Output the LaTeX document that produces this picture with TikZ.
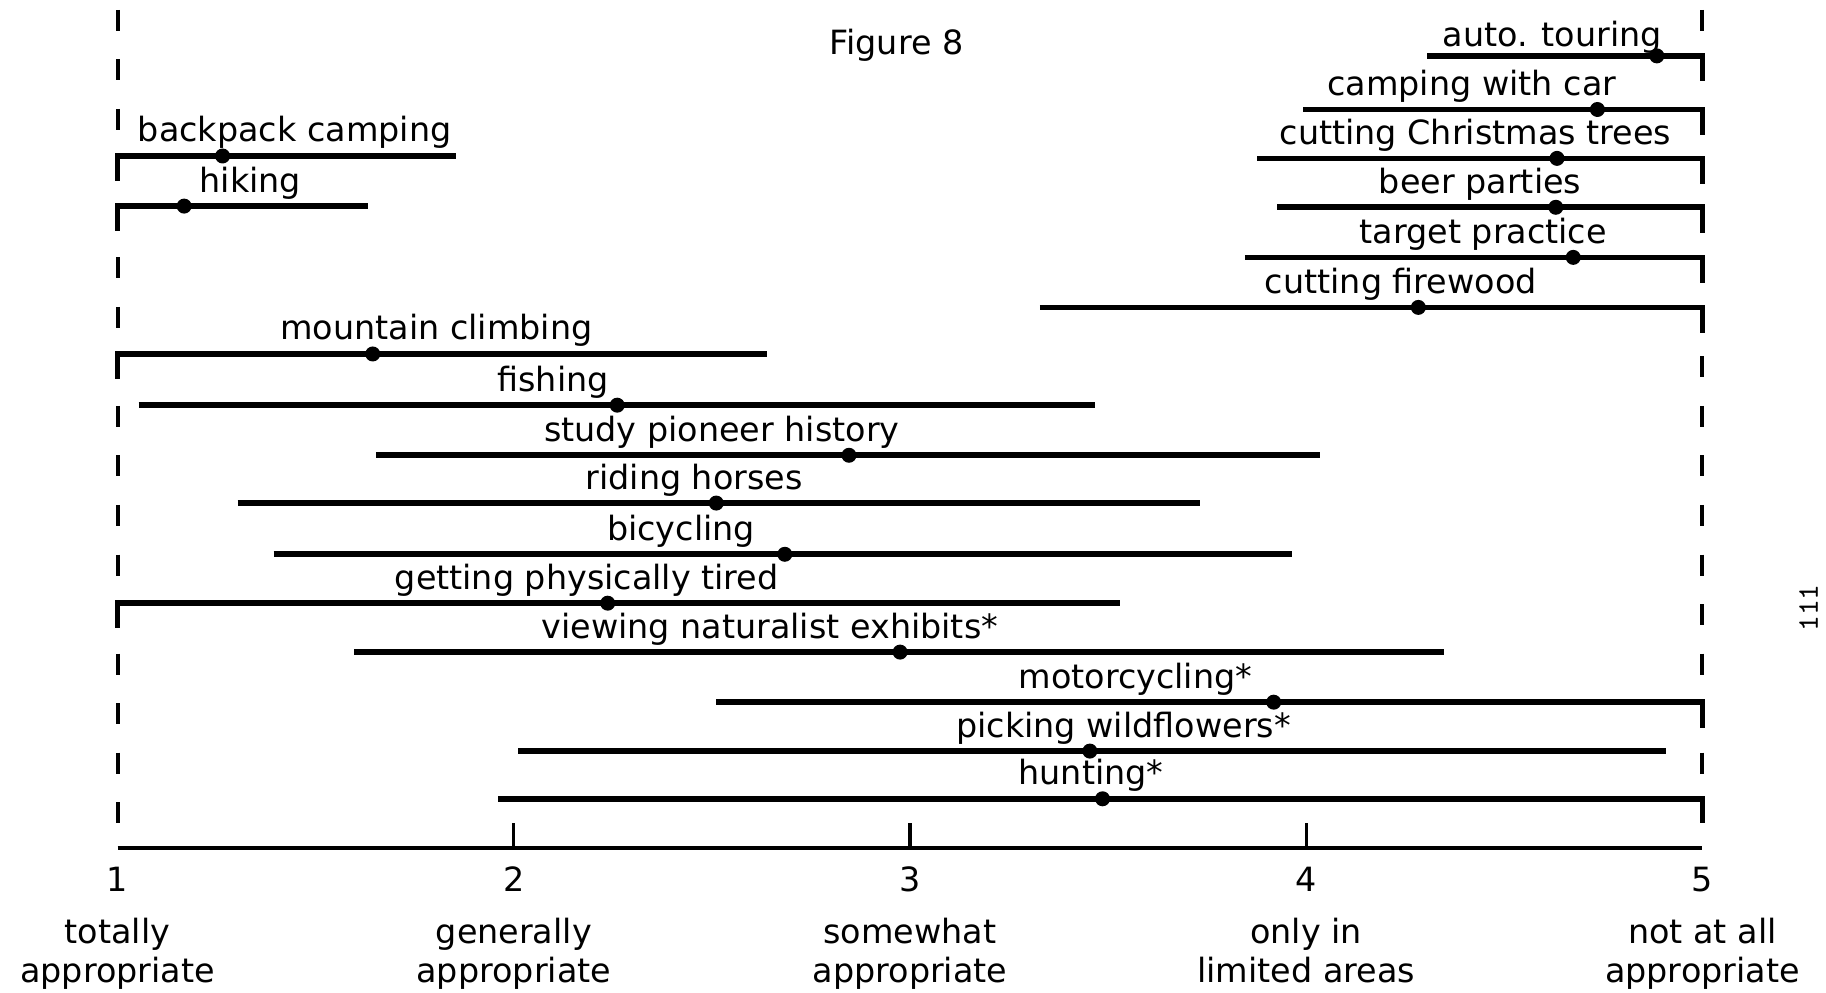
\documentclass[tikz,border=0pt]{standalone}
\usepackage{fontspec}
\setmainfont{DejaVu Sans}
\usetikzlibrary{positioning}

\begin{document}
\begin{tikzpicture}[x=3.962cm, y=1cm,
        every node/.style={font=\fontsize{9.5}{9.4}\selectfont, inner sep=0pt},
        lab/.style={anchor=base},
        rng/.style={line width=1.6pt},
        dot/.style={circle, fill, minimum size=0.15cm},
        guide/.style={line width=1.1pt, dash pattern=on 0.21cm off 0.285cm},
        cat/.style={align=center, anchor=north, font=\fontsize{9.5}{11.1}\selectfont}]
    \useasboundingbox (0.7032,0) rectangle (5.3120,9.93);

    \node[lab] (title) at (2.966,9.38) {Figure 8};

    % dashed end lines
    \draw[guide] (1,9.83) -- (1,1.70);
    \draw[guide] (5,9.83) -- (5,1.70);

    % activities rated near 5
    \draw[rng] (4.306,9.371) -| (5,9.12);
    \node[dot] (autoP) at (4.885,9.371) {};
    \node[lab] (auto) at (4.621,9.46) {auto. touring};

    \draw[rng] (3.992,8.835) -| (5,8.58);
    \node[dot] (carP) at (4.735,8.835) {};
    \node[lab] (car) at (4.418,8.975) {camping with car};

    \draw[rng] (3.877,8.346) -| (5,8.09);
    \node[dot] (treeP) at (4.633,8.346) {};
    \node[lab] (tree) at (4.427,8.486) {cutting Christmas trees};

    \draw[rng] (3.927,7.857) -| (5,7.60);
    \node[dot] (beerP) at (4.630,7.857) {};
    \node[lab] (beer) at (4.439,7.997) {beer parties};

    \draw[rng] (3.845,7.356) -| (5,7.10);
    \node[dot] (targetP) at (4.674,7.356) {};
    \node[lab] (target) at (4.447,7.496) {target practice};

    \draw[rng] (3.328,6.856) -| (5,6.60);
    \node[dot] (woodP) at (4.283,6.856) {};
    \node[lab] (wood) at (4.239,6.996) {cutting firewood};

    % activities rated near 1
    \draw[rng] (1,8.12) |- (1.855,8.370);
    \node[dot] (packP) at (1.265,8.370) {};
    \node[lab] (pack) at (1.447,8.51) {backpack camping};

    \draw[rng] (1,7.62) |- (1.632,7.869);
    \node[dot] (hikeP) at (1.168,7.869) {};
    \node[lab] (hike) at (1.335,8.009) {hiking};

    \draw[rng] (1,6.14) |- (2.640,6.390);
    \node[dot] (climbP) at (1.644,6.390) {};
    \node[lab] (climb) at (1.805,6.53) {mountain climbing};

    % the middle
    \draw[rng] (1.053,5.878) -- (3.466,5.878);
    \node[dot] (fishP) at (2.261,5.878) {};
    \node[lab] (fish) at (2.099,6.018) {fishing};

    \draw[rng] (1.652,5.377) -- (4.036,5.377);
    \node[dot] (histP) at (2.846,5.377) {};
    \node[lab] (hist) at (2.525,5.517) {study pioneer history};

    \draw[rng] (1.303,4.899) -- (3.733,4.899);
    \node[dot] (horseP) at (2.511,4.899) {};
    \node[lab] (horse) at (2.455,5.039) {riding horses};

    \draw[rng] (1.394,4.387) -- (3.965,4.387);
    \node[dot] (bikeP) at (2.684,4.387) {};
    \node[lab] (bike) at (2.422,4.527) {bicycling};

    \draw[rng] (1,3.65) |- (3.530,3.898);
    \node[dot] (tiredP) at (2.237,3.898) {};
    \node[lab] (tired) at (2.184,4.038) {getting physically tired};

    \draw[rng] (1.597,3.409) -- (4.348,3.409);
    \node[dot] (exhibP) at (2.975,3.409) {};
    \node[lab] (exhib) at (2.646,3.549) {viewing naturalist exhibits*};

    \draw[rng] (2.511,2.908) -| (5,2.65);
    \node[dot] (motoP) at (3.918,2.908) {};
    \node[lab] (moto) at (3.569,3.048) {motorcycling*};

    \draw[rng] (2.011,2.419) -- (4.909,2.419);
    \node[dot] (flowerP) at (3.454,2.419) {};
    \node[lab] (flower) at (3.539,2.559) {picking wildflowers*};

    \draw[rng] (1.961,1.942) -| (5,1.70);
    \node[dot] (huntP) at (3.486,1.942) {};
    \node[lab] (hunt) at (3.457,2.082) {hunting*};

    % scale
    \draw[line width=1.3pt] (1,1.452) -- (5,1.452);
    \draw[line width=0.9pt] (2,1.452) -- (2,1.70);
    \draw[line width=0.9pt] (3,1.452) -- (3,1.70);
    \draw[line width=0.9pt] (4,1.452) -- (4,1.70);

    \node[lab] (n1) at (1,1.01) {1};
    \node[lab] (n2) at (2,1.01) {2};
    \node[lab] (n3) at (3,1.01) {3};
    \node[lab] (n4) at (4,1.01) {4};
    \node[lab] (n5) at (5,1.01) {5};

    \node[cat] (c1) at (1,0.752) {totally\\appropriate};
    \node[cat] (c2) at (2,0.752) {generally\\appropriate};
    \node[cat] (c3) at (3,0.752) {somewhat\\appropriate};
    \node[cat] (c4) at (4,0.752) {only in\\limited areas};
    \node[cat] (c5) at (5,0.752) {not at all\\appropriate};

    \node[rotate=90, font=\fontsize{8.5}{9}\ttfamily] (page) at (5.268,3.85) {111};
\end{tikzpicture}
\end{document}
